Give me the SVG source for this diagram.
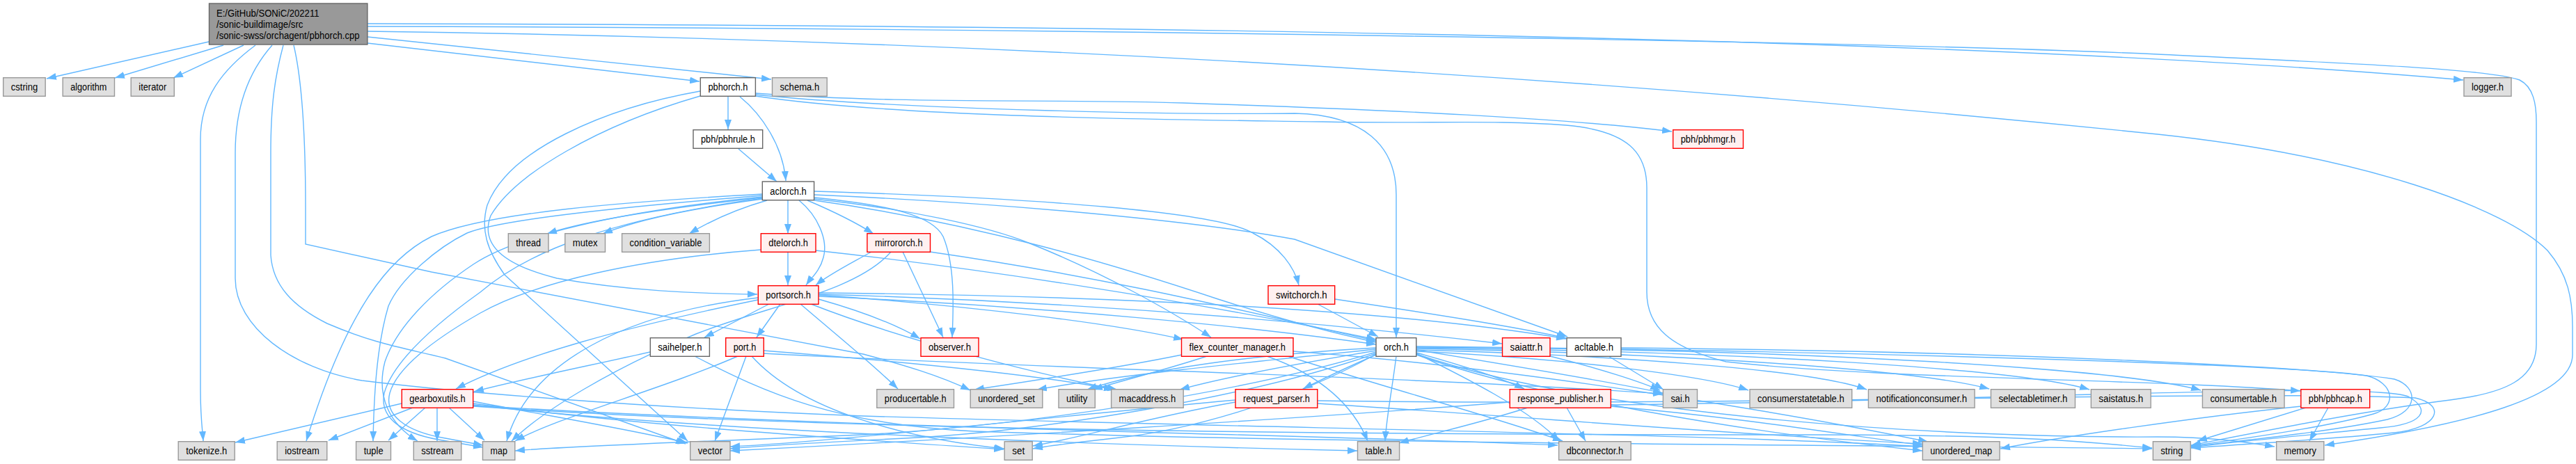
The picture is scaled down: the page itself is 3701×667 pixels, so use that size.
<svg xmlns="http://www.w3.org/2000/svg" width="3701" height="667" viewBox="0 0 3701 667">
<style>
.gr rect{fill:#E0E0E0;stroke:#999999;stroke-width:1.4}
.wh rect{fill:#FFFFFF;stroke:#666666;stroke-width:1.4}
.rd rect{fill:#FFF0F0;stroke:#FF0000;stroke-width:1.4}
.rt rect{fill:#999999;stroke:#666666;stroke-width:1.4}
text{font-family:"Liberation Sans",Arial,Helvetica,sans-serif;font-size:14px;fill:#000000}
.c{text-anchor:middle}
</style>
<defs>
<marker id="ah" markerWidth="14" markerHeight="10" refX="14" refY="5" orient="auto" markerUnits="userSpaceOnUse"><path d="M0,0L14,5L0,10z" fill="#63B8FF" stroke="none"/></marker>
</defs>
<rect width="3701" height="667" fill="#FFFFFF"/>
<g id="edges" fill="none" stroke="#63B8FF" stroke-width="1.4" marker-end="url(#ah)">
<path d="M300,60 L67,113"/>
<path d="M321,65 L165,112"/>
<path d="M350,65 L249,112"/>
<path d="M367,65 C320,100 288,140 288,200 L288,560 C288,600 291,620 292,634"/>
<path d="M391,65 C360,100 338,150 338,220 L338,400 C338,470 420,530 520,547 C640,562 900,585 1240,598 C1800,615 2500,625 2762,642"/>
<path d="M407,65 C395,110 389,150 389,220 L389,367 C392,410 420,440 470,465 C540,495 580,500 640,515 L985,638"/>
<path d="M422,65 C435,120 439,200 439,300 L439,351 L620,391 L1240,509 C1300,525 1350,540 1394,561"/>
<path d="M528,62 L1005,117"/>
<path d="M528,53 L1108,114"/>
<path d="M528,34 C1500,36 2800,50 3539,115"/>
<path d="M528,38 C1500,40 2700,60 3100,78 C3400,92 3580,100 3620,115 C3640,125 3644,150 3644,175 L3644,495 C3644,545 3600,565 3520,575 C3400,590 3250,620 3148,640"/>
<path d="M528,45 C1300,55 2200,100 3100,193 C3400,225 3600,300 3660,360 C3690,395 3696,430 3696,470 L3696,510 C3696,570 3550,610 3340,640"/>
<path d="M1046,138 L1046,186"/>
<path d="M1063,139 C1095,165 1125,210 1129,260"/>
<path d="M1006,131 C870,155 730,215 700,295 C690,330 700,360 725,395 L988,634"/>
<path d="M1006,138 C860,180 740,250 705,310 C690,350 720,380 800,400 C900,418 1000,422 1088,423"/>
<path d="M1085,134 C1300,150 1500,142 1700,148 C2000,158 2250,170 2402,189"/>
<path d="M1085,136 C1300,158 1700,165 1860,163 C1960,165 2006,210 2006,280 L2006,485"/>
<path d="M1085,138 C1300,170 1700,172 1900,175 C2050,178 2150,172 2250,180 C2340,188 2366,220 2366,270 L2366,420 C2366,470 2400,500 2480,520 C2700,545 3100,545 3305,562"/>
<path d="M1061,214 L1116,261"/>
<path d="M1095,279 C900,290 700,305 620,340 C560,370 500,440 440,634"/>
<path d="M1095,281 C900,297 720,315 671,335 C630,355 575,400 558,440 C540,500 537,580 536,634"/>
<path d="M1095,283 C880,305 740,340 680,380 C620,420 570,470 553,520 C540,570 560,610 600,634"/>
<path d="M1095,285 C880,315 760,360 690,420 C620,470 565,520 552,565 C545,600 575,622 630,632 L694,643"/>
<path d="M1095,284 C950,300 840,318 786,336"/>
<path d="M1096,286 C990,300 910,318 866,336"/>
<path d="M1102,288 C1060,300 1020,318 990,336"/>
<path d="M1132,288 L1132,336"/>
<path d="M1148,288 C1175,310 1190,345 1183,370 C1178,390 1165,400 1158,410"/>
<path d="M1160,288 C1200,305 1230,320 1255,336"/>
<path d="M1170,275 C1500,285 1750,305 1800,335 C1840,355 1860,385 1866,410"/>
<path d="M1170,284 C1280,295 1340,310 1355,340 C1372,380 1370,440 1368,485"/>
<path d="M1170,286 C1300,300 1420,325 1480,350 C1580,390 1680,445 1740,485"/>
<path d="M1170,288 C1400,320 1600,380 1750,430 C1850,462 1920,480 1977,492"/>
<path d="M1170,280 C1450,292 1720,318 1860,344 L2252,484"/>
<path d="M1132,362 L1132,410"/>
<path d="M1093,359 C920,372 770,405 690,450 C620,490 570,530 560,565 C552,595 580,620 640,630 L694,640"/>
<path d="M1172,360 C1400,385 1700,430 1977,488"/>
<path d="M1252,362 C1220,380 1190,395 1172,410"/>
<path d="M1297,362 L1355,485"/>
<path d="M1280,362 C1230,420 1100,440 1000,480 C880,530 780,590 735,634"/>
<path d="M1336,362 C1600,400 1800,450 1977,490"/>
<path d="M1105,437 L1012,485"/>
<path d="M1121,437 L1087,485"/>
<path d="M1089,431 C900,470 750,510 655,559"/>
<path d="M1089,428 C900,450 760,520 728,634"/>
<path d="M1176,430 C1240,448 1290,468 1322,487"/>
<path d="M1150,437 C1200,480 1250,520 1290,559"/>
<path d="M1165,437 C1300,490 1500,540 1605,560"/>
<path d="M1176,424 C1400,440 1600,465 1700,488"/>
<path d="M1176,426 C1500,440 1800,470 1977,495"/>
<path d="M1176,421 C1600,425 2000,445 2250,487"/>
<path d="M1176,423 C1600,435 1950,470 2158,494"/>
<path d="M1893,437 L1980,484"/>
<path d="M1918,430 C2050,450 2180,470 2250,486"/>
<path d="M934,506 C850,525 750,545 681,563"/>
<path d="M998,512 C1100,565 1200,610 1400,620 C2000,640 2800,640 3092,645"/>
<path d="M1060,512 C950,560 800,600 740,634"/>
<path d="M1072,512 L1027,634"/>
<path d="M1080,512 C1150,590 1300,630 1443,645"/>
<path d="M1097,504 C1300,520 1500,540 1600,560"/>
<path d="M1097,508 C1500,530 2000,540 2389,566"/>
<path d="M1698,510 C1600,530 1480,548 1400,560"/>
<path d="M1734,512 C1680,530 1620,545 1570,560"/>
<path d="M1820,512 C1900,540 1945,585 1965,634"/>
<path d="M1850,512 C2000,560 2150,600 2245,634"/>
<path d="M1858,505 C2200,530 2600,600 2770,635"/>
<path d="M2006,512 C2000,560 1992,600 1990,634"/>
<path d="M1977,510 C1930,530 1900,545 1872,559"/>
<path d="M2035,507 C2100,525 2160,545 2190,559"/>
<path d="M2035,503 C2200,530 2320,550 2389,565"/>
<path d="M2035,505 C2250,515 2450,540 2512,561"/>
<path d="M2035,503 C2300,510 2600,530 2682,560"/>
<path d="M2035,501 C2400,508 2750,530 2858,559"/>
<path d="M2035,500 C2500,505 2900,530 3002,560"/>
<path d="M2035,499 C2600,502 3050,530 3162,561"/>
<path d="M2035,508 C2100,540 2200,590 2240,634"/>
<path d="M2035,510 C2200,570 2500,620 2762,648"/>
<path d="M2035,498 C2700,505 3300,525 3400,540 C3440,550 3445,585 3410,595 C3350,612 3250,627 3148,641"/>
<path d="M2035,509 C2300,600 2800,630 3100,628 C3180,628 3230,636 3268,642"/>
<path d="M1977,506 C1800,560 1500,610 1240,625 C1000,635 800,642 740,648"/>
<path d="M1977,508 C1800,570 1500,620 1300,630 C1200,635 1100,640 1049,645"/>
<path d="M1977,509 C1850,580 1700,620 1600,630 C1550,636 1510,640 1484,645"/>
<path d="M1977,500 C1800,510 1650,530 1562,560"/>
<path d="M1977,502 C1800,520 1600,540 1490,560"/>
<path d="M1977,504 C1850,525 1750,545 1695,560"/>
<path d="M2227,512 C2300,530 2360,550 2385,561"/>
<path d="M2311,512 L2390,560"/>
<path d="M2329,500 C2900,505 3330,528 3440,545 C3475,556 3475,592 3430,603 C3350,620 3250,630 3148,642"/>
<path d="M2195,586 C2120,610 2050,625 2010,637"/>
<path d="M2251,586 L2278,634"/>
<path d="M2314,582 C2900,575 3400,548 3460,570 C3495,590 3480,610 3420,615 C3320,625 3220,634 3148,643"/>
<path d="M2314,584 C2500,600 2650,625 2762,640"/>
<path d="M2169,578 C1900,600 1400,630 1049,648"/>
<path d="M1775,578 C1650,600 1550,630 1484,641"/>
<path d="M1775,575 C1500,600 1200,635 1049,642"/>
<path d="M1893,580 C2200,600 2500,625 2762,638"/>
<path d="M1893,576 C2500,585 3200,560 3470,572 C3515,582 3505,615 3440,622 C3340,632 3230,638 3148,644"/>
<path d="M577,580 L338,636"/>
<path d="M593,586 L472,633"/>
<path d="M611,586 L558,633"/>
<path d="M628,586 L628,634"/>
<path d="M645,586 L696,633"/>
<path d="M680,577 C800,600 920,620 988,637"/>
<path d="M680,580 C900,610 1200,630 1442,646"/>
<path d="M680,582 C1000,620 1600,640 1950,648"/>
<path d="M680,584 C1200,620 2000,625 2600,625 C2900,625 3000,635 3092,644"/>
<path d="M680,583 C1200,615 1900,625 2238,640"/>
<path d="M3313,586 L3157,634"/>
<path d="M3345,586 L3318,634"/>
<path d="M3306,584 C3150,600 2950,630 2874,645"/>
</g>
<g id="n_cpp" class="rt"><rect x="300.5" y="5" width="227.4" height="59"/><text x="311" y="23.5" textLength="147.5" lengthAdjust="spacingAndGlyphs">E:/GitHub/SONiC/202211</text><text x="311" y="39.5" textLength="124.5" lengthAdjust="spacingAndGlyphs">/sonic-buildimage/src</text><text x="311" y="55.7" textLength="205.6" lengthAdjust="spacingAndGlyphs">/sonic-swss/orchagent/pbhorch.cpp</text></g>
<g id="n_cstring" class="gr"><rect x="4.7" y="111.7" width="60.5" height="26.6"/><text class="c" x="35" y="130.2" textLength="38.5" lengthAdjust="spacingAndGlyphs">cstring</text></g>
<g id="n_algorithm" class="gr"><rect x="90.2" y="111.7" width="74.3" height="26.6"/><text class="c" x="127.3" y="130.2" textLength="52.3" lengthAdjust="spacingAndGlyphs">algorithm</text></g>
<g id="n_iterator" class="gr"><rect x="188.2" y="111.7" width="62.1" height="26.6"/><text class="c" x="219.3" y="130.2" textLength="40" lengthAdjust="spacingAndGlyphs">iterator</text></g>
<g id="n_pbhorch_h" class="wh"><rect x="1006.3" y="111.7" width="79.1" height="26.6"/><text class="c" x="1045.9" y="130.2" textLength="57" lengthAdjust="spacingAndGlyphs">pbhorch.h</text></g>
<g id="n_schema" class="gr"><rect x="1109.5" y="111.7" width="78.7" height="26.6"/><text class="c" x="1148.9" y="130.2" textLength="56.7" lengthAdjust="spacingAndGlyphs">schema.h</text></g>
<g id="n_logger" class="gr"><rect x="3540" y="111.7" width="68" height="26.6"/><text class="c" x="3574" y="130.2" textLength="46" lengthAdjust="spacingAndGlyphs">logger.h</text></g>
<g id="n_pbhrule" class="wh"><rect x="996" y="186.7" width="99.7" height="26.6"/><text class="c" x="1045.9" y="205.2" textLength="77.7" lengthAdjust="spacingAndGlyphs">pbh/pbhrule.h</text></g>
<g id="n_pbhmgr" class="rd"><rect x="2403.7" y="186.7" width="100.8" height="26.6"/><text class="c" x="2454.1" y="205.2" textLength="78.8" lengthAdjust="spacingAndGlyphs">pbh/pbhmgr.h</text></g>
<g id="n_aclorch" class="wh"><rect x="1095.3" y="261" width="74.3" height="26.7"/><text class="c" x="1132.5" y="279.5" textLength="52.3" lengthAdjust="spacingAndGlyphs">aclorch.h</text></g>
<g id="n_thread" class="gr"><rect x="730.3" y="335.7" width="57.7" height="26.6"/><text class="c" x="759.2" y="354.2" textLength="35.7" lengthAdjust="spacingAndGlyphs">thread</text></g>
<g id="n_mutex" class="gr"><rect x="811.8" y="335.7" width="57.7" height="26.6"/><text class="c" x="840.7" y="354.2" textLength="35.7" lengthAdjust="spacingAndGlyphs">mutex</text></g>
<g id="n_condvar" class="gr"><rect x="893.6" y="335.7" width="125.8" height="26.6"/><text class="c" x="956.5" y="354.2" textLength="103.8" lengthAdjust="spacingAndGlyphs">condition_variable</text></g>
<g id="n_dtelorch" class="rd"><rect x="1093.3" y="335.7" width="78.7" height="26.6"/><text class="c" x="1132.7" y="354.2" textLength="56.7" lengthAdjust="spacingAndGlyphs">dtelorch.h</text></g>
<g id="n_mirrororch" class="rd"><rect x="1245.9" y="335.7" width="90.6" height="26.6"/><text class="c" x="1291.2" y="354.2" textLength="68.6" lengthAdjust="spacingAndGlyphs">mirrororch.h</text></g>
<g id="n_portsorch" class="rd"><rect x="1089.3" y="410.7" width="86.7" height="26.6"/><text class="c" x="1132.7" y="429.2" textLength="64.7" lengthAdjust="spacingAndGlyphs">portsorch.h</text></g>
<g id="n_switchorch" class="rd"><rect x="1822" y="410.7" width="95.7" height="26.6"/><text class="c" x="1869.9" y="429.2" textLength="73.7" lengthAdjust="spacingAndGlyphs">switchorch.h</text></g>
<g id="n_saihelper" class="wh"><rect x="934.3" y="485.7" width="85.1" height="26.6"/><text class="c" x="976.9" y="504.2" textLength="63.1" lengthAdjust="spacingAndGlyphs">saihelper.h</text></g>
<g id="n_port" class="rd"><rect x="1042.7" y="485.7" width="54.6" height="26.6"/><text class="c" x="1070" y="504.2" textLength="32.6" lengthAdjust="spacingAndGlyphs">port.h</text></g>
<g id="n_observer" class="rd"><rect x="1323" y="485.7" width="83" height="26.6"/><text class="c" x="1364.5" y="504.2" textLength="61" lengthAdjust="spacingAndGlyphs">observer.h</text></g>
<g id="n_flex" class="rd"><rect x="1697.5" y="485.7" width="160.5" height="26.6"/><text class="c" x="1777.8" y="504.2" textLength="138.5" lengthAdjust="spacingAndGlyphs">flex_counter_manager.h</text></g>
<g id="n_orch" class="wh"><rect x="1977" y="485.7" width="57.8" height="26.6"/><text class="c" x="2005.9" y="504.2" textLength="35.8" lengthAdjust="spacingAndGlyphs">orch.h</text></g>
<g id="n_saiattr" class="rd"><rect x="2158.5" y="485.7" width="68.5" height="26.6"/><text class="c" x="2192.8" y="504.2" textLength="46.5" lengthAdjust="spacingAndGlyphs">saiattr.h</text></g>
<g id="n_acltable" class="wh"><rect x="2251" y="485.7" width="78" height="26.6"/><text class="c" x="2290" y="504.2" textLength="56" lengthAdjust="spacingAndGlyphs">acltable.h</text></g>
<g id="n_gearbox" class="rd"><rect x="577.3" y="559.7" width="102.4" height="26.6"/><text class="c" x="628.5" y="578.2" textLength="80.4" lengthAdjust="spacingAndGlyphs">gearboxutils.h</text></g>
<g id="n_producertable" class="gr"><rect x="1259.8" y="559.7" width="110.7" height="26.6"/><text class="c" x="1315.2" y="578.2" textLength="88.7" lengthAdjust="spacingAndGlyphs">producertable.h</text></g>
<g id="n_unordered_set" class="gr"><rect x="1394.2" y="559.7" width="103.6" height="26.6"/><text class="c" x="1446" y="578.2" textLength="81.6" lengthAdjust="spacingAndGlyphs">unordered_set</text></g>
<g id="n_utility" class="gr"><rect x="1521" y="559.7" width="52.3" height="26.6"/><text class="c" x="1547.2" y="578.2" textLength="30.3" lengthAdjust="spacingAndGlyphs">utility</text></g>
<g id="n_macaddress" class="gr"><rect x="1596.6" y="559.7" width="103.6" height="26.6"/><text class="c" x="1648.4" y="578.2" textLength="81.6" lengthAdjust="spacingAndGlyphs">macaddress.h</text></g>
<g id="n_request_parser" class="rd"><rect x="1775" y="559.7" width="117.8" height="26.6"/><text class="c" x="1833.9" y="578.2" textLength="95.8" lengthAdjust="spacingAndGlyphs">request_parser.h</text></g>
<g id="n_response_publisher" class="rd"><rect x="2169.2" y="559.7" width="145.1" height="26.6"/><text class="c" x="2241.8" y="578.2" textLength="123.1" lengthAdjust="spacingAndGlyphs">response_publisher.h</text></g>
<g id="n_sai" class="gr"><rect x="2389.4" y="559.7" width="49.1" height="26.6"/><text class="c" x="2414" y="578.2" textLength="27.1" lengthAdjust="spacingAndGlyphs">sai.h</text></g>
<g id="n_consumerstatetable" class="gr"><rect x="2514" y="559.7" width="146.7" height="26.6"/><text class="c" x="2587.4" y="578.2" textLength="124.7" lengthAdjust="spacingAndGlyphs">consumerstatetable.h</text></g>
<g id="n_notificationconsumer" class="gr"><rect x="2684.4" y="559.7" width="152.6" height="26.6"/><text class="c" x="2760.7" y="578.2" textLength="130.6" lengthAdjust="spacingAndGlyphs">notificationconsumer.h</text></g>
<g id="n_selectabletimer" class="gr"><rect x="2860.4" y="559.7" width="121" height="26.6"/><text class="c" x="2920.9" y="578.2" textLength="99" lengthAdjust="spacingAndGlyphs">selectabletimer.h</text></g>
<g id="n_saistatus" class="gr"><rect x="3004.3" y="559.7" width="85.8" height="26.6"/><text class="c" x="3047.2" y="578.2" textLength="63.8" lengthAdjust="spacingAndGlyphs">saistatus.h</text></g>
<g id="n_consumertable" class="gr"><rect x="3164.4" y="559.7" width="117.6" height="26.6"/><text class="c" x="3223.2" y="578.2" textLength="95.6" lengthAdjust="spacingAndGlyphs">consumertable.h</text></g>
<g id="n_pbhcap" class="rd"><rect x="3305.8" y="559.7" width="98.9" height="26.6"/><text class="c" x="3355.3" y="578.2" textLength="76.9" lengthAdjust="spacingAndGlyphs">pbh/pbhcap.h</text></g>
<g id="n_tokenize" class="gr"><rect x="256.2" y="634.7" width="81" height="26.6"/><text class="c" x="296.7" y="653.2" textLength="59" lengthAdjust="spacingAndGlyphs">tokenize.h</text></g>
<g id="n_iostream" class="gr"><rect x="398.2" y="634.7" width="71.6" height="26.6"/><text class="c" x="434" y="653.2" textLength="49.6" lengthAdjust="spacingAndGlyphs">iostream</text></g>
<g id="n_tuple" class="gr"><rect x="511.6" y="634.7" width="49.9" height="26.6"/><text class="c" x="536.6" y="653.2" textLength="27.9" lengthAdjust="spacingAndGlyphs">tuple</text></g>
<g id="n_sstream" class="gr"><rect x="594.3" y="634.7" width="68.4" height="26.6"/><text class="c" x="628.5" y="653.2" textLength="46.4" lengthAdjust="spacingAndGlyphs">sstream</text></g>
<g id="n_map" class="gr"><rect x="693.5" y="634.7" width="46.3" height="26.6"/><text class="c" x="716.7" y="653.2" textLength="24.3" lengthAdjust="spacingAndGlyphs">map</text></g>
<g id="n_vector" class="gr"><rect x="991.7" y="634.7" width="57.3" height="26.6"/><text class="c" x="1020.4" y="653.2" textLength="35.3" lengthAdjust="spacingAndGlyphs">vector</text></g>
<g id="n_set" class="gr"><rect x="1443.2" y="634.7" width="40" height="26.6"/><text class="c" x="1463.2" y="653.2" textLength="18" lengthAdjust="spacingAndGlyphs">set</text></g>
<g id="n_table" class="gr"><rect x="1950.5" y="634.7" width="60.1" height="26.6"/><text class="c" x="1980.6" y="653.2" textLength="38.1" lengthAdjust="spacingAndGlyphs">table.h</text></g>
<g id="n_dbconnector" class="gr"><rect x="2239.6" y="634.7" width="103.6" height="26.6"/><text class="c" x="2291.4" y="653.2" textLength="81.6" lengthAdjust="spacingAndGlyphs">dbconnector.h</text></g>
<g id="n_unordered_map" class="gr"><rect x="2762.3" y="634.7" width="110.7" height="26.6"/><text class="c" x="2817.7" y="653.2" textLength="88.7" lengthAdjust="spacingAndGlyphs">unordered_map</text></g>
<g id="n_string" class="gr"><rect x="3093.3" y="634.7" width="53.9" height="26.6"/><text class="c" x="3120.3" y="653.2" textLength="31.9" lengthAdjust="spacingAndGlyphs">string</text></g>
<g id="n_memory" class="gr"><rect x="3270.6" y="634.7" width="68.2" height="26.6"/><text class="c" x="3304.7" y="653.2" textLength="46.2" lengthAdjust="spacingAndGlyphs">memory</text></g>
</svg>
